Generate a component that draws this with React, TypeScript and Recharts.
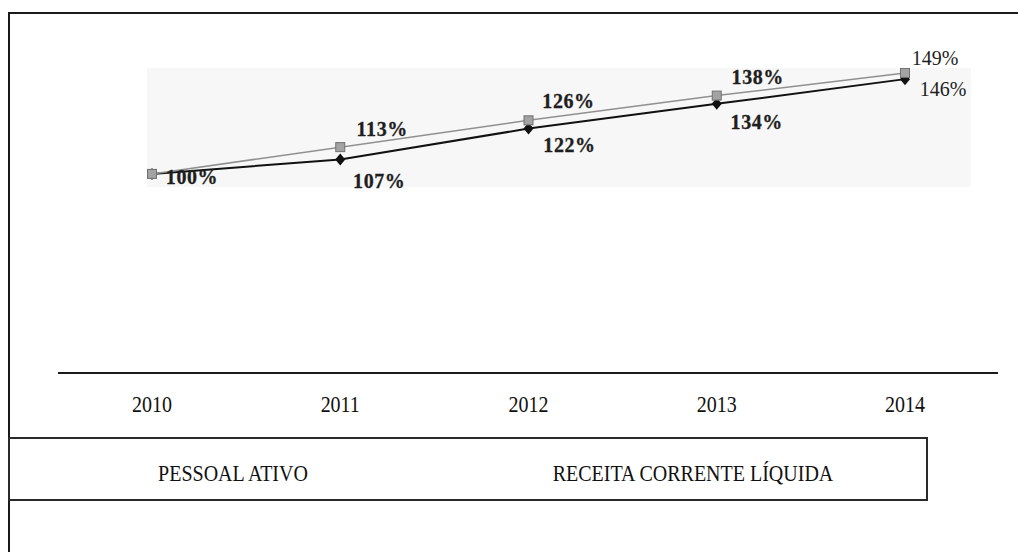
import { LineChart, Line, XAxis, YAxis, LabelList } from 'recharts';

const YEARS = ['2010', '2011', '2012', '2013', '2014'];
const PESSOAL_ATIVO = [100, 107, 122, 134, 146];
const RECEITA_CORRENTE_LIQUIDA = [100, 113, 126, 138, 149];
const SERIES_NAMES = ['PESSOAL ATIVO', 'RECEITA CORRENTE LÍQUIDA'];

const data = YEARS.map((year, i) => ({
  year,
  pessoal: PESSOAL_ATIVO[i],
  receita: RECEITA_CORRENTE_LIQUIDA[i],
}));

const SERIF = "'Liberation Serif', 'Times New Roman', serif";

// label offsets from the point (center of text), per index
const BLACK_OFFSETS = [
  [40, 3],
  [39, 21],
  [41, 16],
  [40, 18],
  [38, 10],
];
const GRAY_OFFSETS = [null, [42, -18], [40, -19], [41, -19], [30, -15]];

const Diamond = (props: any) => {
  const { cx, cy } = props;
  if (cx == null || cy == null) return null;
  return (
    <path
      d={`M${cx},${cy - 6} L${cx + 5},${cy} L${cx},${cy + 6} L${cx - 5},${cy} Z`}
      fill="#111"
    />
  );
};

const Square = (props: any) => {
  const { cx, cy } = props;
  if (cx == null || cy == null) return null;
  return (
    <rect x={cx - 4.5} y={cy - 4.5} width={9} height={9} fill="#a3a3a3" stroke="#707070" strokeWidth={1} />
  );
};

const makeLabel = (offsets: any[]) => (props: any) => {
  const { x, y, value, index } = props;
  const off = offsets[index];
  if (!off || x == null) return null;
  const last = index === offsets.length - 1;
  return (
    <g transform={`translate(${x + off[0]},${y + off[1]}) scale(1,${last ? 1.1 : 1})`}>
      <text
        x={0}
        y={0}
        textAnchor="middle"
        dominantBaseline="central"
        fill="#1e1e1e"
        stroke={last ? 'none' : '#1e1e1e'}
        strokeWidth={last ? 0 : 0.3}
        fontFamily={SERIF}
        fontSize={20}
        fontWeight={last ? 'normal' : 'bold'}
        letterSpacing={last ? 0 : 0.6}
      >
        {value}%
      </text>
    </g>
  );
};

const YearTick = (props: any) => {
  const { x, y, payload } = props;
  return (
    <g transform={`translate(${x},${y + 39}) scale(1,1.2)`}>
      <text x={0} y={0} textAnchor="middle" fill="#111" fontFamily={SERIF} fontSize={20}>
        {payload.value}
      </text>
    </g>
  );
};

const legendText: React.CSSProperties = {
  position: 'absolute',
  top: 34,
  transform: 'translate(-50%, -50%) scaleY(1.2)',
  fontFamily: SERIF,
  fontSize: 20,
  color: '#111',
  whiteSpace: 'nowrap',
};

export default function App() {
  return (
    <div style={{ position: 'relative', width: 1018, height: 552, overflow: 'hidden', background: '#fff' }}>
      <style>{'body{margin:0;overflow:hidden}'}</style>
      {/* outer frame */}
      <div
        style={{
          position: 'absolute',
          left: 8,
          top: 12,
          width: 1020,
          height: 560,
          borderLeft: '2px solid #1a1a1a',
          borderTop: '2px solid #1a1a1a',
        }}
      />
      {/* light plot backdrop */}
      <div style={{ position: 'absolute', left: 147, top: 68, width: 824, height: 119, background: '#f7f7f7' }} />
      <div style={{ position: 'absolute', left: 0, top: 0 }}>
        <LineChart
          width={1018}
          height={552}
          data={data}
          margin={{ top: 68, right: 20, bottom: 119, left: 58 }}
        >
          <XAxis
            dataKey="year"
            height={60}
            padding={{ left: 94, right: 93 }}
            axisLine={{ stroke: '#1a1a1a', strokeWidth: 2 }}
            tickLine={false}
            tickSize={0}
            tickMargin={0}
            tick={<YearTick />}
            interval={0}
          />
          <YAxis hide type="number" domain={[3.4, 151.4]} allowDataOverflow scale="linear" />
          <Line
            dataKey="pessoal"
            name={SERIES_NAMES[0]}
            stroke="#111"
            strokeWidth={2}
            dot={<Diamond />}
            activeDot={false}
            isAnimationActive={false}
          >
            <LabelList dataKey="pessoal" content={makeLabel(BLACK_OFFSETS)} />
          </Line>
          <Line
            dataKey="receita"
            name={SERIES_NAMES[1]}
            stroke="#909090"
            strokeWidth={1.5}
            dot={<Square />}
            activeDot={false}
            isAnimationActive={false}
          >
            <LabelList dataKey="receita" content={makeLabel(GRAY_OFFSETS)} />
          </Line>
        </LineChart>
      </div>
      {/* legend */}
      <div
        style={{
          position: 'absolute',
          left: 8,
          top: 437,
          width: 920,
          height: 64,
          boxSizing: 'border-box',
          border: '2px solid #2a2a2a',
        }}
      >
        <span style={{ ...legendText, left: 223 }}>{SERIES_NAMES[0]}</span>
        <span style={{ ...legendText, left: 683 }}>{SERIES_NAMES[1]}</span>
      </div>
    </div>
  );
}
